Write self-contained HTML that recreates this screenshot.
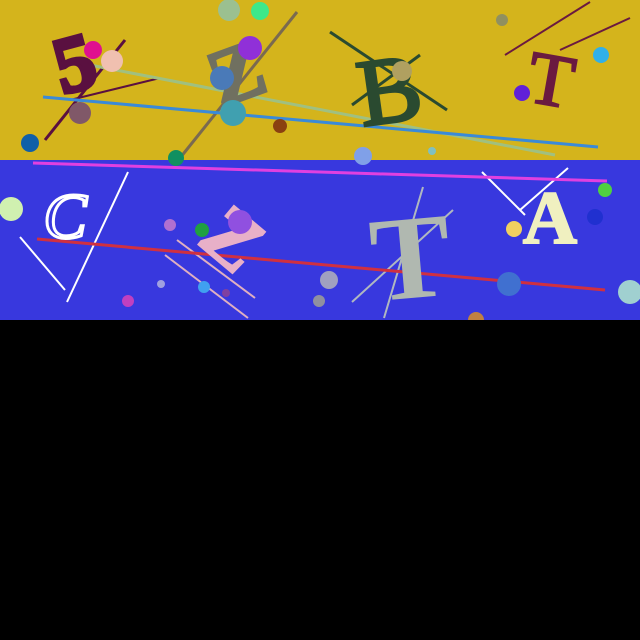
<!DOCTYPE html>
<html><head><meta charset="utf-8"><style>
html,body{margin:0;padding:0;background:#000;}
svg{display:block;}
</style></head><body>
<svg width="640" height="640" viewBox="0 0 640 640" font-family="Liberation Serif, serif">
<rect x="0" y="0" width="640" height="640" fill="#000"/>
<rect x="0" y="0" width="640" height="160" fill="#d4b41c"/>
<rect x="0" y="160" width="640" height="160" fill="#3838de"/>

<g stroke-width="3">
<line x1="45" y1="140" x2="125" y2="40" stroke="#5a1040"/>
<line x1="70" y1="100" x2="160" y2="78" stroke="#5a1040" stroke-width="2"/>
<line x1="180" y1="158" x2="297" y2="12" stroke="#7a6a50"/>
<line x1="330" y1="32" x2="447" y2="110" stroke="#2a4a30"/>
<line x1="352" y1="105" x2="420" y2="55" stroke="#2a4a30"/>
<line x1="505" y1="55" x2="590" y2="2" stroke="#6a1a40" stroke-width="2"/>
<line x1="560" y1="50" x2="630" y2="18" stroke="#6a1a40" stroke-width="2"/>
<line x1="90" y1="65" x2="555" y2="155" stroke="#a0c080"/>
<line x1="43" y1="97" x2="598" y2="147" stroke="#3a8ad8"/>
</g>

<text x="75" y="90" font-size="80" font-weight="bold" fill="#5a1040" stroke="#5a1040" stroke-width="4" text-anchor="middle" transform="rotate(-15 75 65)">5</text>
<text x="237" y="100" font-size="80" font-weight="bold" fill="#707060" stroke="#707060" stroke-width="3" text-anchor="middle" transform="rotate(-20 237 75)">Z</text>
<text x="388" y="122" font-size="95" fill="#2a4a30" stroke="#2a4a30" stroke-width="3" text-anchor="middle" transform="rotate(-8 388 80)">B</text>
<text x="552" y="105" font-size="75" fill="#6a1a40" stroke="#6a1a40" stroke-width="2" text-anchor="middle" transform="rotate(10 552 75)">T</text>

<g>
<circle cx="229" cy="10" r="11" fill="#9bc090"/>
<circle cx="260" cy="11" r="9" fill="#3de88a"/>
<circle cx="93" cy="50" r="9" fill="#e0108f"/>
<circle cx="112" cy="61" r="11" fill="#f0c0b0"/>
<circle cx="250" cy="48" r="12" fill="#9030d8"/>
<circle cx="222" cy="78" r="12" fill="#4a7ab8"/>
<circle cx="233" cy="113" r="13" fill="#40a0b0"/>
<circle cx="80" cy="113" r="11" fill="#805868"/>
<circle cx="30" cy="143" r="9" fill="#1060a8"/>
<circle cx="280" cy="126" r="7" fill="#8a4010"/>
<circle cx="176" cy="158" r="8" fill="#109060"/>
<circle cx="363" cy="156" r="9" fill="#80a0e8"/>
<circle cx="402" cy="71" r="10" fill="#b0a060"/>
<circle cx="502" cy="20" r="6" fill="#909060"/>
<circle cx="601" cy="55" r="8" fill="#30b0e8"/>
<circle cx="522" cy="93" r="8" fill="#6020d8"/>
<circle cx="432" cy="151" r="4" fill="#80c0c0"/>
</g>

<g stroke-width="2">
<line x1="20" y1="237" x2="65" y2="290" stroke="#ffffff"/>
<line x1="128" y1="172" x2="67" y2="302" stroke="#ffffff"/>
<line x1="165" y1="255" x2="248" y2="318" stroke="#e0b0c0"/>
<line x1="177" y1="240" x2="255" y2="298" stroke="#e0b0c0"/>
<line x1="352" y1="302" x2="453" y2="210" stroke="#b0b8c0"/>
<line x1="384" y1="318" x2="423" y2="187" stroke="#b0b8c0"/>
<line x1="482" y1="172" x2="525" y2="215" stroke="#ffffff"/>
<line x1="520" y1="210" x2="568" y2="168" stroke="#ffffff"/>
<line x1="33" y1="163" x2="607" y2="181" stroke="#e040e0" stroke-width="3"/>
<line x1="37" y1="239" x2="605" y2="290" stroke="#d03040" stroke-width="3"/>
</g>

<text x="65" y="238" font-size="65" font-style="italic" fill="none" stroke="#ffffff" stroke-width="3" text-anchor="middle">C</text>
<text x="232" y="265" font-size="80" font-weight="bold" fill="#e8b0c8" stroke="#e8b0c8" stroke-width="2" text-anchor="middle" transform="rotate(40 232 240)">Z</text>
<text x="410" y="298" font-size="120" font-weight="bold" fill="#b0b8b0" text-anchor="middle" transform="rotate(-5 410 250)">T</text>
<text x="550" y="243" font-size="75" font-weight="bold" fill="#f0f0c0" stroke="#f0f0c0" stroke-width="2" text-anchor="middle">A</text>

<g>
<circle cx="11" cy="209" r="12" fill="#d0f0b0"/>
<circle cx="170" cy="225" r="6" fill="#b070d0"/>
<circle cx="202" cy="230" r="7" fill="#20a040"/>
<circle cx="240" cy="222" r="12" fill="#9050e0"/>
<circle cx="161" cy="284" r="4" fill="#a0a0e0"/>
<circle cx="204" cy="287" r="6" fill="#40a0f0"/>
<circle cx="128" cy="301" r="6" fill="#c040c0"/>
<circle cx="226" cy="293" r="4" fill="#8040a0"/>
<circle cx="329" cy="280" r="9" fill="#a0a0c0"/>
<circle cx="319" cy="301" r="6" fill="#9090a0"/>
<circle cx="509" cy="284" r="12" fill="#4070d0"/>
<circle cx="476" cy="320" r="8" fill="#c08040"/>
<circle cx="514" cy="229" r="8" fill="#f0d060"/>
<circle cx="595" cy="217" r="8" fill="#2030d0"/>
<circle cx="605" cy="190" r="7" fill="#50d040"/>
<circle cx="630" cy="292" r="12" fill="#a0d0d0"/>
</g>
<rect x="0" y="320" width="640" height="320" fill="#000"/>
</svg>
</body></html>
